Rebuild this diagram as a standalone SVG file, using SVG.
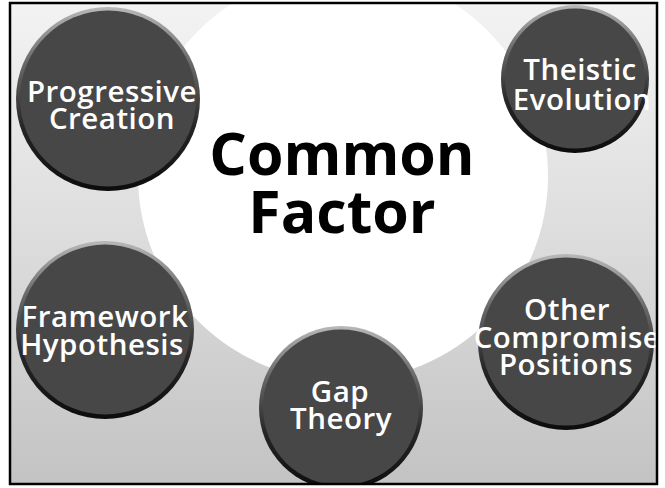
<svg xmlns="http://www.w3.org/2000/svg" width="665" height="488" viewBox="0 0 665 488">
<defs>
<linearGradient id="bg" x1="0" y1="0" x2="0" y2="1">
<stop offset="0" stop-color="#f3f3f3"/>
<stop offset="0.5" stop-color="#dcdcdc"/>
<stop offset="1" stop-color="#c3c3c3"/>
</linearGradient>
<linearGradient id="rim" x1="0" y1="0" x2="0" y2="1">
<stop offset="0" stop-color="#b8b8b8"/>
<stop offset="0.3" stop-color="#6a6a6a"/>
<stop offset="0.65" stop-color="#262626"/>
<stop offset="1" stop-color="#0c0c0c"/>
</linearGradient>
<clipPath id="frame"><rect x="10" y="3" width="647" height="481"/></clipPath>
</defs>
<style>
.rim{fill:url(#rim)}
.disk{fill:#474747}
.lbl{font-family:"Open Sans","Noto Sans",sans-serif;font-weight:600;font-size:29.5px;letter-spacing:0.5px;fill:#ffffff;text-anchor:middle}
.title{font-family:"Open Sans","Noto Sans",sans-serif;font-weight:700;font-size:59px;fill:#000000;text-anchor:middle}
</style>
<g clip-path="url(#frame)">
<rect x="10" y="3" width="647" height="481" fill="url(#bg)"/>
<g id="center">
<circle cx="343" cy="176" r="205" fill="#ffffff"/>
<text class="title" x="342" y="175">Common</text>
<text class="title" x="342" y="233">Factor</text>
</g>
<g id="progressive-creation">
<circle class="rim" cx="108" cy="99" r="92"/>
<circle class="disk" cx="108" cy="98.5" r="88"/>
<text class="lbl" x="112" y="102">Progressive</text>
<text class="lbl" x="112" y="129">Creation</text>
</g>
<g id="theistic-evolution">
<circle class="rim" cx="575" cy="79" r="74"/>
<circle class="disk" cx="575" cy="78.5" r="70"/>
<text class="lbl" x="580" y="80">Theistic</text>
<text class="lbl" x="582" y="110">Evolution</text>
</g>
<g id="framework-hypothesis">
<circle class="rim" cx="105" cy="330" r="89"/>
<circle class="disk" cx="105" cy="329.5" r="85"/>
<text class="lbl" x="105" y="327">Framework</text>
<text class="lbl" x="102" y="355">Hypothesis</text>
</g>
<g id="gap-theory">
<circle class="rim" cx="341" cy="408" r="82"/>
<circle class="disk" cx="341" cy="407.5" r="78"/>
<text class="lbl" x="340" y="402">Gap</text>
<text class="lbl" x="341" y="429">Theory</text>
</g>
<g id="other-compromise-positions">
<circle class="rim" cx="566" cy="342" r="88"/>
<circle class="disk" cx="566" cy="341.5" r="84"/>
<text class="lbl" x="567" y="320">Other</text>
<text class="lbl" x="567" y="348">Compromise</text>
<text class="lbl" x="566" y="375">Positions</text>
</g>
</g>
<rect x="10" y="3" width="647" height="481" fill="none" stroke="#000" stroke-width="2.5"/>
</svg>
